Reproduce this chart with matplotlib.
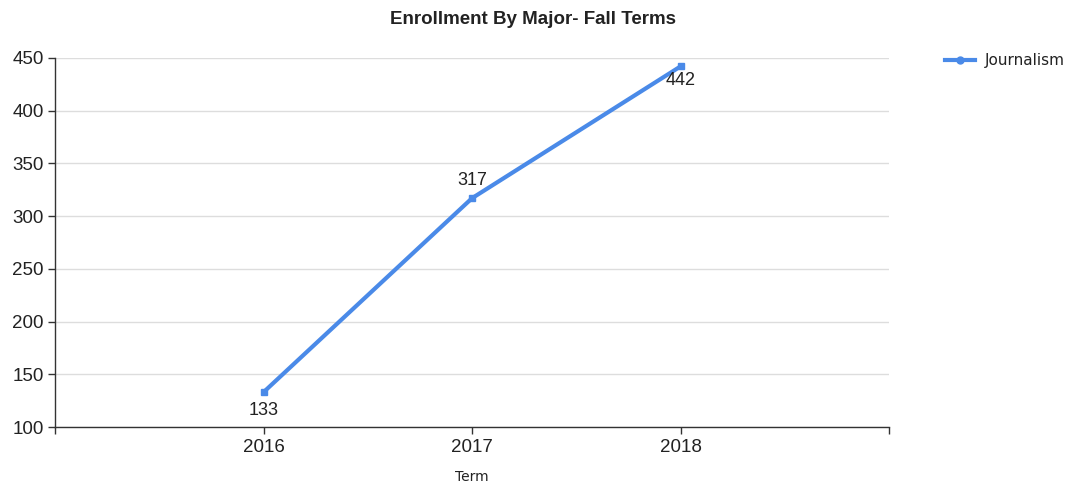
import matplotlib
matplotlib.use("Agg")
import matplotlib.pyplot as plt
from matplotlib.lines import Line2D

terms = ["2016", "2017", "2018"]
enrollment = [133, 317, 442]
label_offsets = [-18, 18, -14]  # px: below, above, below
series_name = "Journalism"
yticks = [100, 150, 200, 250, 300, 350, 400, 450]

color = "#4a8ae8"
plt.rcParams["font.family"] = ["Liberation Sans", "DejaVu Sans"]

fig = plt.figure(figsize=(10.66, 4.84), dpi=100)
ax = fig.add_axes([55/1066, 1-427/484, (889-55)/1066, (427-58)/484])

x = list(range(len(terms)))
ax.plot(x, enrollment, color=color, lw=3, marker="s", ms=5, zorder=3,
        solid_capstyle="butt")
for xi, v, off in zip(x, enrollment, label_offsets):
    ax.annotate(str(v), (xi, v), xytext=(0, off), textcoords="offset pixels",
                ha="center", va="center", fontsize=13, color="#222222")

ax.set_xlim(-1, 3)
ax.set_ylim(100, 450)
ax.set_yticks(yticks)
ax.set_xticks([-1] + x + [3])
ax.set_xticklabels([""] + terms + [""])
ax.grid(axis="y", color="#dddddd", lw=1)
ax.set_axisbelow(True)
for s in ["top", "right"]:
    ax.spines[s].set_visible(False)
for s in ["left", "bottom"]:
    ax.spines[s].set_color("#333333")
    ax.spines[s].set_linewidth(1)
ax.tick_params(axis="both", colors="#333333", length=5, width=1,
               labelsize=13.5, labelcolor="#222222")
ax.tick_params(axis="y", pad=3)
ax.tick_params(axis="x", pad=4)

fig.text(472/1066, 1-477/484, "Term", ha="center", va="center", fontsize=10,
         family="DejaVu Sans", color="#222222")
fig.text(533/1066, 1-19/484, "Enrollment By Major- Fall Terms", ha="center",
         va="center", fontsize=13.5, fontweight="bold", color="#222222")

# legend
ly = 1 - 60/484
fig.add_artist(Line2D([945/1066, 975/1066], [ly, ly], color=color, lw=3,
                      transform=fig.transFigure))
fig.add_artist(Line2D([960/1066], [ly], color=color, marker="o", ms=5, lw=0,
                      transform=fig.transFigure))
fig.text(985/1066, ly, series_name, ha="left", va="center", fontsize=11,
         family="DejaVu Sans", color="#222222")

fig.savefig("out.png", dpi=100)
